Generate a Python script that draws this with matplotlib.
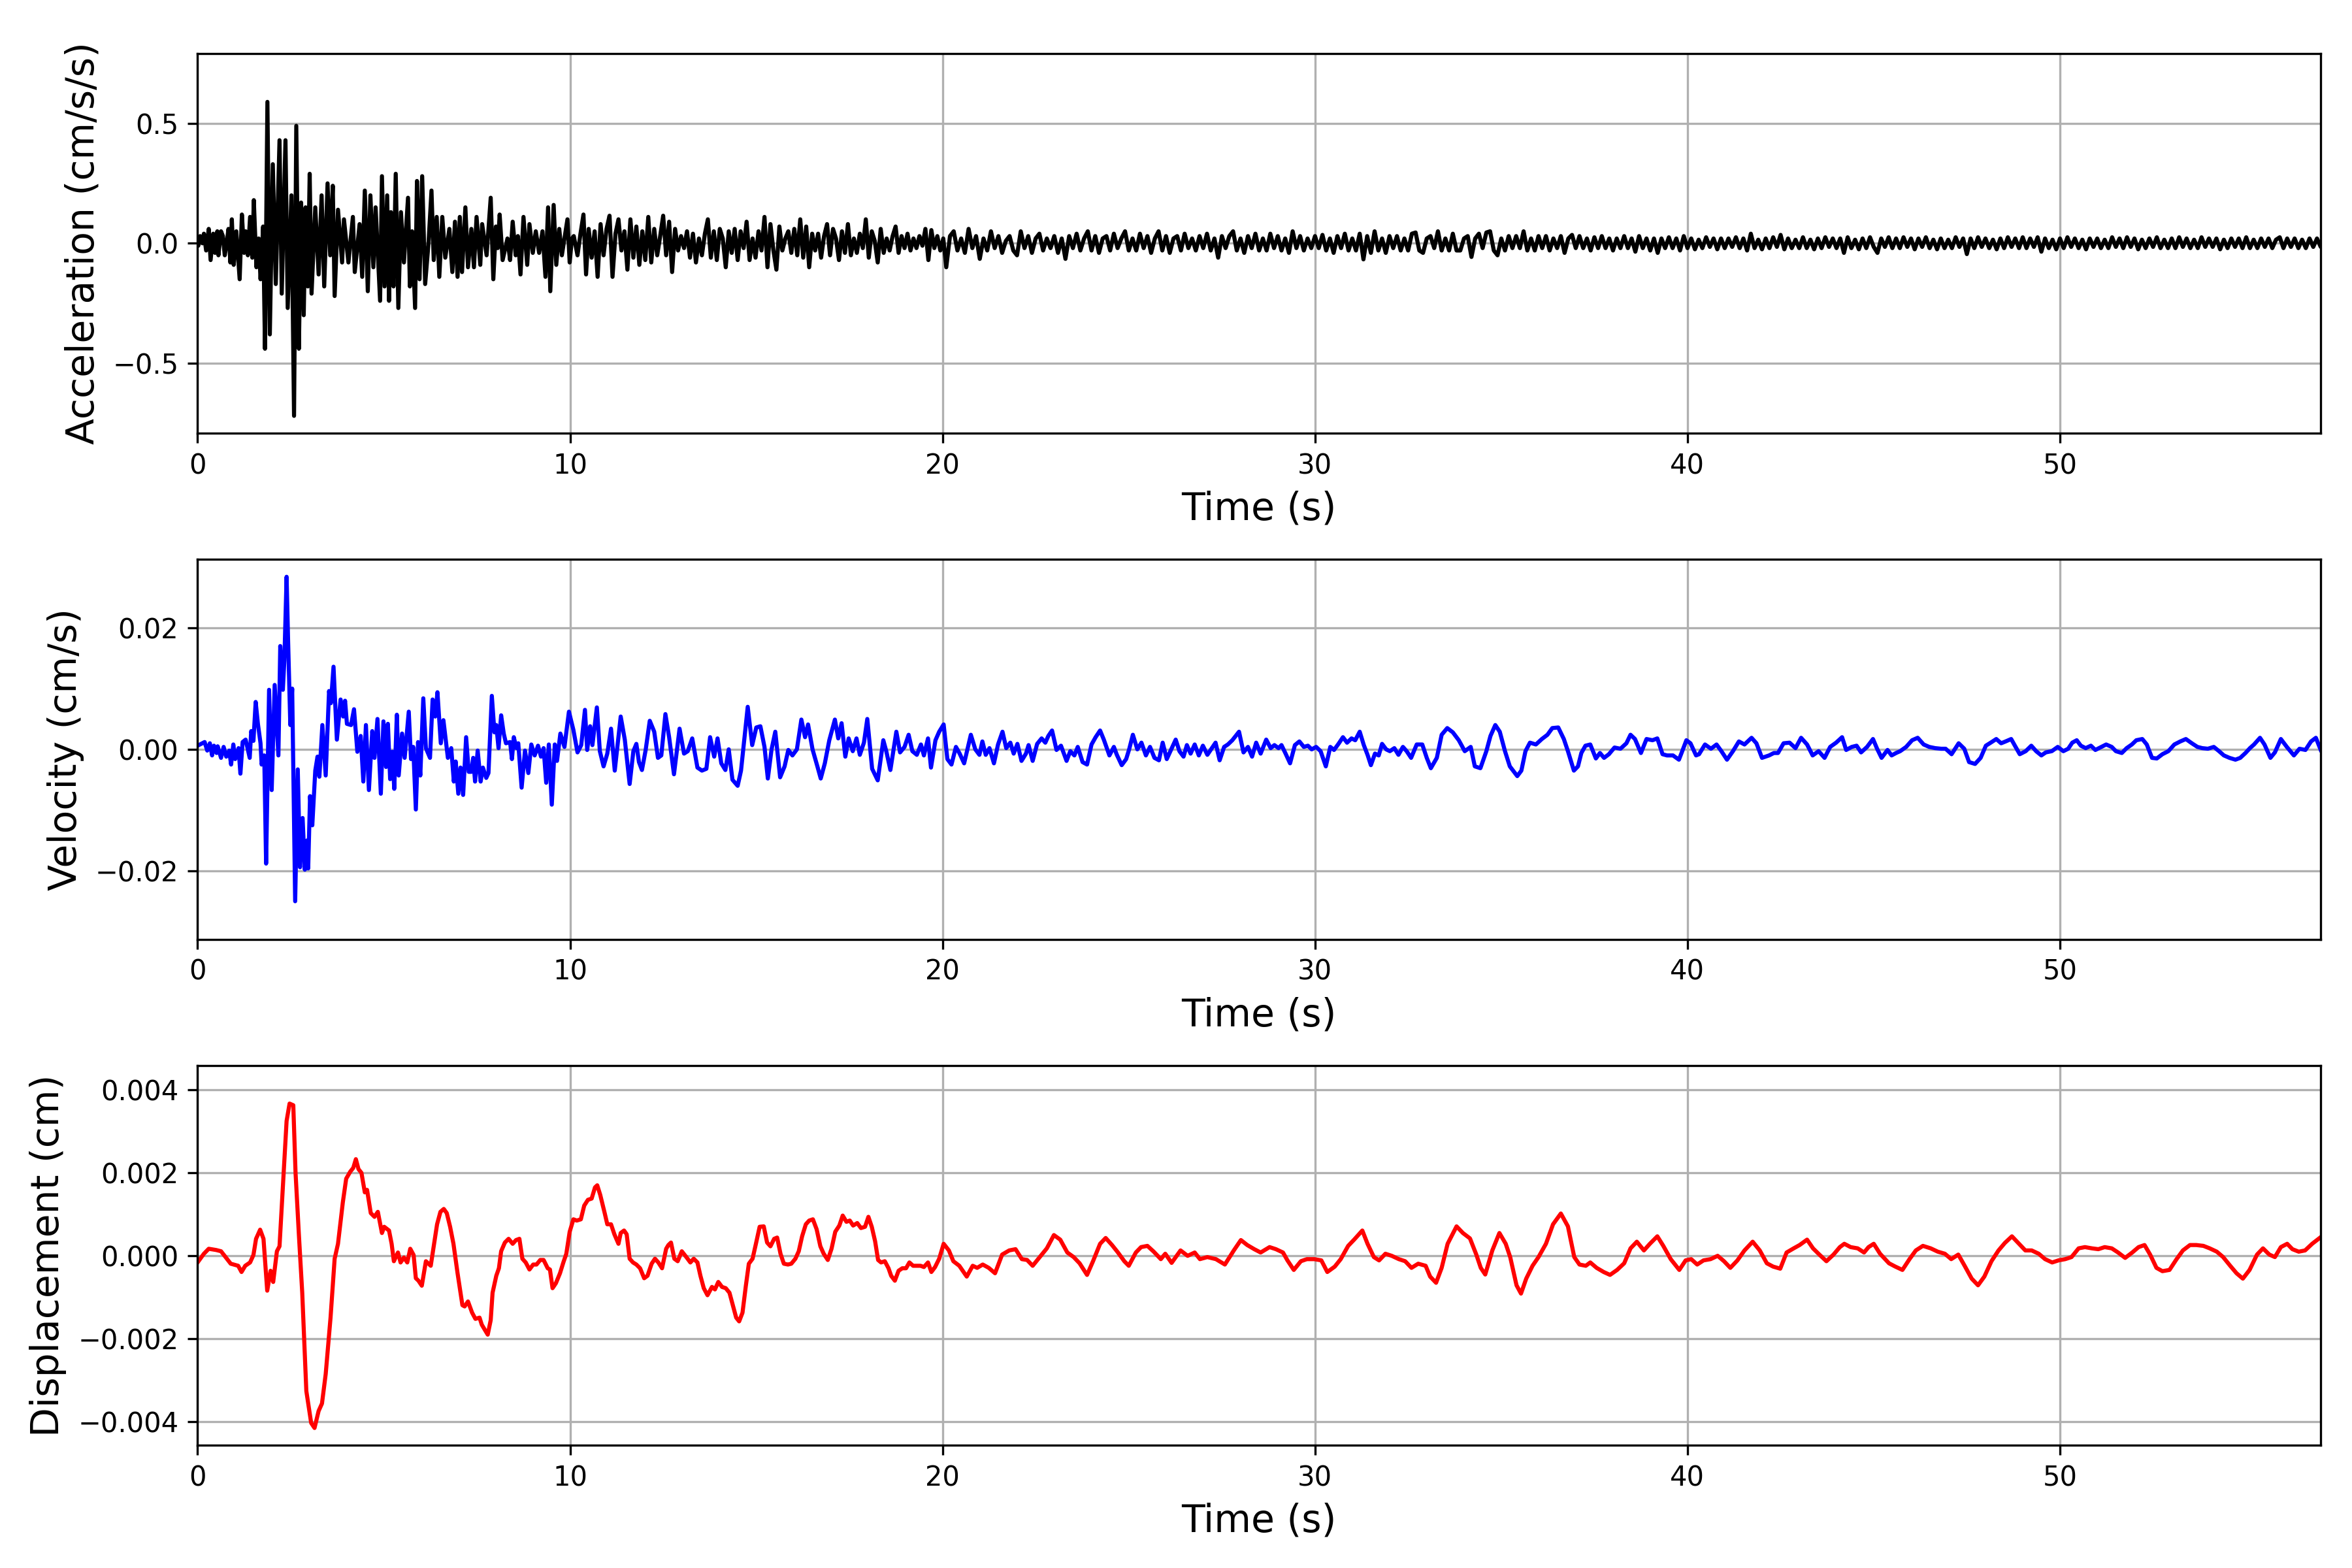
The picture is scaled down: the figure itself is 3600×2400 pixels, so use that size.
import numpy as np
import matplotlib
matplotlib.use("Agg")
import matplotlib.pyplot as plt

# ---------------- Acceleration (cm/s/s) ----------------
# early part: explicit sample times (s) and values
acc_t_early = [
    0.0, 0.02, 0.07, 0.13, 0.17, 0.23, 0.3, 0.35, 0.42, 0.47,
    0.53, 0.56, 0.63, 0.68, 0.73, 0.78, 0.83, 0.88, 0.92, 0.97,
    1.04, 1.13, 1.19, 1.25, 1.29, 1.35, 1.41, 1.47, 1.51, 1.58,
    1.64, 1.69, 1.76, 1.81, 1.875, 1.94, 2.02, 2.1, 2.2, 2.26,
    2.36, 2.42, 2.52, 2.59, 2.65, 2.72, 2.78, 2.85, 2.9, 2.96,
    3.01, 3.06, 3.16, 3.25, 3.33, 3.4, 3.49, 3.56, 3.63, 3.68,
    3.77, 3.88, 3.93, 4.05, 4.17, 4.22, 4.35, 4.42, 4.49, 4.57,
    4.64, 4.72, 4.78, 4.9, 4.95, 5.02, 5.09, 5.14, 5.19, 5.26,
    5.32, 5.39, 5.46, 5.54, 5.65, 5.7, 5.76, 5.84, 5.89, 5.96,
    6.03, 6.11, 6.2, 6.28, 6.34, 6.42, 6.49, 6.57, 6.65, 6.76,
    6.84, 6.91, 6.98, 7.04, 7.1, 7.19, 7.26, 7.35, 7.42, 7.49,
    7.59, 7.64, 7.76, 7.87, 7.94, 8.01, 8.06, 8.11, 8.19, 8.32,
    8.39, 8.46, 8.54, 8.6, 8.67, 8.75, 8.85, 8.91, 9.0, 9.08,
    9.17, 9.26, 9.34, 9.41, 9.47, 9.56, 9.63, 9.71, 9.78, 9.86,
    9.93, 9.99, 10.05, 10.1, 10.2, 10.28, 10.36, 10.43, 10.5]
acc_early = [
    0.0, -0.01, 0.03, 0.0, 0.04, -0.03, 0.06, -0.07, 0.04, -0.04,
    0.05, -0.05, 0.05, 0.03, -0.05, 0.0, 0.06, -0.08, 0.1, -0.09,
    0.05, -0.15, 0.12, -0.04, 0.05, -0.05, 0.11, -0.06, 0.18, -0.1,
    0.02, -0.15, 0.07, -0.44, 0.59, -0.38, 0.33, -0.17, 0.43, -0.21,
    0.43, -0.27, 0.2, -0.72, 0.49, -0.44, 0.17, -0.3, 0.15, -0.18,
    0.29, -0.21, 0.15, -0.13, 0.2, -0.18, 0.25, -0.05, 0.24, -0.22,
    0.14, -0.08, 0.1, -0.08, 0.11, -0.12, 0.08, -0.14, 0.22, -0.2,
    0.2, -0.1, 0.15, -0.24, 0.28, -0.18, 0.2, -0.24, 0.13, -0.18,
    0.29, -0.27, 0.13, -0.08, 0.19, -0.18, 0.05, -0.27, 0.26, -0.15,
    0.28, -0.17, 0.0, 0.22, -0.07, 0.11, -0.14, 0.11, -0.06, 0.06,
    -0.12, 0.09, -0.14, 0.11, -0.12, 0.15, -0.1, 0.06, -0.1, 0.11,
    -0.09, 0.08, -0.05, 0.19, -0.15, 0.07, -0.02, 0.12, -0.07, 0.02,
    -0.07, 0.09, -0.05, 0.03, -0.13, 0.11, -0.09, 0.08, -0.04, 0.05,
    -0.04, 0.05, -0.14, 0.15, -0.2, 0.16, -0.09, 0.06, -0.05, 0.03,
    0.1, -0.08, 0.02, 0.03, -0.05, 0.04, 0.12, -0.13, 0.06]

# middle part: sampled every 0.08 s from 10.58 s
acc_mid_start, acc_mid_step = 10.58, 0.08
acc_mid = [
    -0.06, 0.05, -0.14, 0.08, -0.05, 0.06, 0.115, -0.14, 0.04, 0.10,
    -0.03, 0.05, -0.11, 0.10, -0.06, 0.07, -0.09, 0.05, -0.07, 0.11,
    -0.08, 0.06, -0.05, 0.03, 0.115, -0.05, 0.09, -0.12, 0.06, -0.03,
    0.03, -0.02, 0.05, -0.06, 0.04, -0.08, 0.02, -0.05, 0.04, 0.10,
    -0.06, 0.05, -0.07, 0.06, 0.02, -0.10, 0.05, -0.04, 0.06, -0.07,
    0.05, -0.02, 0.09, -0.07, 0.02, -0.06, 0.05, -0.03, 0.11, -0.10,
    0.08, -0.03, -0.11, 0.07, -0.03, 0.02, 0.05, -0.04, 0.06, -0.05,
    0.10, -0.06, 0.07, -0.10, 0.04, -0.03, 0.04, -0.06, 0.03, 0.08,
    -0.05, 0.06, 0.02, -0.07, 0.05, -0.04, 0.08, -0.05, 0.02, -0.04,
    0.04, -0.02, 0.10, -0.06, 0.05, 0.01, -0.08, 0.06, -0.04, 0.02,
    -0.03, 0.03, 0.07, -0.04, 0.03, -0.02, 0.04, -0.03, 0.02, -0.02,
    0.03, -0.01, 0.06, -0.07, 0.055, -0.02, 0.03, -0.03, 0.02]

# late part: sampled every 0.1 s from 20.1 s
acc_late_start, acc_late_step = 20.1, 0.1
acc_late = [
    -0.10, 0.03, 0.05, -0.03, 0.02, -0.04, 0.06, -0.02, 0.03, -0.065,
    0.02, -0.03, 0.05, -0.02, 0.03, -0.04, 0.01, 0.03, -0.03, -0.05,
    0.05, -0.02, 0.03, -0.04, 0.02, 0.04, -0.03, 0.02, -0.02, 0.03,
    -0.04, 0.02, -0.065, 0.03, -0.02, 0.04, -0.03, 0.02, 0.05, -0.03,
    0.03, -0.04, 0.02, 0.03, -0.03, 0.04, -0.02, 0.02, 0.05, -0.03,
    0.02, -0.03, 0.04, -0.02, 0.03, -0.04, 0.02, 0.05, -0.03, 0.03,
    -0.04, 0.02, 0.03, -0.03, 0.04, -0.02, 0.02, -0.03, 0.03, -0.02,
    0.04, -0.03, 0.02, -0.06, 0.03, -0.02, 0.03, 0.05, -0.03, 0.02,
    -0.04, 0.03, -0.02, 0.04, -0.03, 0.02, -0.03, 0.04, -0.02, 0.03,
    -0.03, 0.02, -0.04, 0.05, -0.02, 0.03, -0.03, 0.02, -0.02, 0.03,
    -0.02, 0.035, -0.03, 0.02, -0.04, 0.03, -0.02, 0.04, -0.03, 0.02,
    -0.03, 0.04, -0.067, 0.03, -0.04, 0.05, -0.03, 0.02, -0.04, 0.03,
    -0.02, 0.03, -0.03, 0.02, -0.03, 0.04, 0.045, -0.03, -0.04, 0.02,
    0.03, -0.02, 0.05, -0.03, 0.02, -0.03, 0.04, -0.03, -0.03, 0.02,
    0.03, -0.057, 0.02, 0.04, -0.02, 0.045, 0.05, -0.03, -0.05, 0.02,
    -0.03, 0.03, -0.02, 0.03, -0.02, 0.05, -0.03, 0.02, -0.03, 0.03,
    -0.02, 0.03, -0.03, 0.02, -0.02, 0.03, -0.04, 0.02, 0.035, -0.02,
    0.03, -0.02, 0.02, -0.03, 0.025, -0.02, 0.03, -0.02, 0.02, -0.03,
    0.02, -0.02, 0.03, -0.02, 0.02, -0.035, 0.03, -0.02, 0.02, -0.03,
    0.02, -0.04, 0.02, -0.02, 0.025, -0.02, 0.02, -0.03, 0.03, -0.02,
    0.02, -0.025, 0.015, -0.02, 0.025, -0.015, 0.02, -0.025, 0.02, -0.02,
    0.02, -0.015, 0.025, -0.02, 0.02, -0.03, 0.04, -0.02, 0.015, -0.025,
    0.02, -0.02, 0.025, -0.015, 0.035, -0.025, 0.02, -0.02, 0.015, -0.02,
    0.025, -0.02, 0.015, -0.025, 0.02, -0.02, 0.025, -0.015, 0.02, -0.02,
    0.02, -0.04, 0.025, -0.02, 0.015, -0.025, 0.02, -0.02, 0.025, -0.015,
    -0.04, 0.02, -0.015, 0.025, -0.02, 0.02, -0.02, 0.025, -0.015, 0.02,
    -0.025, 0.02, -0.015, 0.025, -0.02, 0.015, -0.025, 0.02, -0.02, 0.015,
    -0.02, 0.025, -0.015, 0.02, -0.045, 0.02, -0.02, 0.025, -0.015, 0.02,
    -0.02, 0.015, -0.025, 0.02, -0.02, 0.025, -0.015, 0.02, -0.02, 0.025,
    -0.02, 0.02, -0.015, 0.025, -0.035, 0.02, -0.02, 0.015, -0.025, 0.02,
    -0.02, 0.025, -0.015, 0.02, -0.02, 0.015, -0.025, 0.02, -0.015, 0.02,
    -0.02, 0.015, -0.02, 0.025, -0.015, 0.02, -0.02, 0.025, -0.015, 0.02,
    -0.025, 0.015, -0.02, 0.02, -0.015, 0.025, -0.02, 0.015, -0.02, 0.02,
    -0.02, 0.025, -0.015, 0.02, -0.02, 0.015, -0.02, 0.025, -0.015, 0.02,
    -0.015, 0.02, -0.025, 0.015, -0.02, 0.02, -0.015, 0.02, -0.02, 0.025,
    -0.02, 0.015, -0.02, 0.02, -0.015, 0.02, -0.02, 0.015, 0.025, -0.02,
    0.02, -0.015, 0.02, -0.02, 0.015, -0.02, 0.02, -0.015, 0.02, -0.015,
    0.0]

# ---------------- Velocity (units of 0.001 cm/s) ----------------
vel_t = [
    0, 0.19, 0.26, 0.33, 0.39, 0.44, 0.51, 0.54, 0.63, 0.70,
    0.77, 0.85, 0.90, 0.96, 1.01, 1.10, 1.15, 1.21, 1.29, 1.40,
    1.44, 1.50, 1.56, 1.62, 1.69, 1.72, 1.79, 1.84, 1.92, 1.99,
    2.07, 2.17, 2.22, 2.29, 2.33, 2.39, 2.43, 2.49, 2.54, 2.62,
    2.69, 2.75, 2.82, 2.88, 2.94, 2.97, 3.02, 3.08, 3.16, 3.22,
    3.27, 3.35, 3.44, 3.53, 3.58, 3.65, 3.74, 3.84, 3.91, 3.96,
    4.01, 4.12, 4.20, 4.29, 4.38, 4.45, 4.52, 4.60, 4.69, 4.75,
    4.83, 4.92, 4.99, 5.06, 5.11, 5.17, 5.23, 5.28, 5.35, 5.40,
    5.49, 5.56, 5.67, 5.73, 5.79, 5.86, 5.92, 5.98, 6.06, 6.13,
    6.24, 6.31, 6.38, 6.44, 6.53, 6.60, 6.72, 6.81, 6.88, 6.93,
    7.00, 7.06, 7.13, 7.21, 7.28, 7.35, 7.40, 7.45, 7.52, 7.60,
    7.66, 7.75, 7.81, 7.90, 7.97, 8.02, 8.08, 8.15, 8.22, 8.28,
    8.39, 8.44, 8.49, 8.56, 8.61, 8.70, 8.79, 8.88, 8.96, 9.05,
    9.14, 9.22, 9.29, 9.36, 9.43, 9.51, 9.59, 9.65, 9.74, 9.85,
    9.97, 10.09, 10.2, 10.3, 10.4, 10.46, 10.54, 10.6, 10.72, 10.8,
    10.9, 11.0, 11.1, 11.2, 11.36, 11.47, 11.6, 11.7, 11.78, 11.85,
    11.93, 12.03, 12.14, 12.26, 12.36, 12.45, 12.56, 12.66, 12.79, 12.94,
    13.06, 13.16, 13.28, 13.42, 13.54, 13.66, 13.76, 13.87, 13.96, 14.06,
    14.17, 14.26, 14.36, 14.5, 14.59, 14.77, 14.89, 15.0, 15.11, 15.22,
    15.31, 15.41, 15.51, 15.64, 15.76, 15.86, 15.97, 16.09, 16.21, 16.31,
    16.39, 16.51, 16.64, 16.73, 16.84, 16.96, 17.11, 17.2, 17.29, 17.39,
    17.48, 17.59, 17.69, 17.78, 17.89, 17.98, 18.11, 18.26, 18.41, 18.49,
    18.6, 18.76, 18.86, 18.98, 19.09, 19.19, 19.31, 19.42, 19.5, 19.61,
    19.69, 19.81, 19.91, 20.03, 20.13, 20.24, 20.36, 20.46, 20.58, 20.76,
    20.88, 20.99, 21.07, 21.16, 21.26, 21.38, 21.49, 21.61, 21.71, 21.82,
    21.91, 22.01, 22.12, 22.24, 22.31, 22.42, 22.54, 22.66, 22.76, 22.84,
    22.94, 23.06, 23.18, 23.33, 23.43, 23.54, 23.63, 23.76, 23.88, 24.0,
    24.11, 24.23, 24.33, 24.48, 24.6, 24.68, 24.81, 24.93, 25.01, 25.11,
    25.23, 25.34, 25.46, 25.57, 25.69, 25.81, 25.91, 26.02, 26.14, 26.26,
    26.36, 26.47, 26.56, 26.66, 26.77, 26.88, 26.99, 27.11, 27.23, 27.33,
    27.44, 27.56, 27.66, 27.78, 27.96, 28.08, 28.2, 28.31, 28.42, 28.54,
    28.69, 28.81, 28.91, 29.02, 29.1, 29.21, 29.33, 29.46, 29.58, 29.7,
    29.81, 29.91, 30.03, 30.15, 30.29, 30.41, 30.51, 30.63, 30.75, 30.86,
    30.98, 31.08, 31.2, 31.31, 31.41, 31.5, 31.61, 31.71, 31.8, 31.91,
    32.01, 32.13, 32.24, 32.36, 32.46, 32.58, 32.73, 32.88, 33.0, 33.11,
    33.27, 33.4, 33.55, 33.7, 33.86, 34.02, 34.18, 34.29, 34.44, 34.6,
    34.71, 34.84, 34.96, 35.1, 35.23, 35.43, 35.54, 35.65, 35.77, 35.93,
    36.09, 36.24, 36.37, 36.53, 36.68, 36.79, 36.95, 37.06, 37.15, 37.26,
    37.39, 37.54, 37.65, 37.76, 37.89, 38.04, 38.2, 38.36, 38.47, 38.59,
    38.75, 38.9, 39.06, 39.19, 39.33, 39.45, 39.61, 39.77, 39.84, 39.97,
    40.08, 40.23, 40.31, 40.47, 40.63, 40.78, 40.91, 41.06, 41.22, 41.38,
    41.53, 41.72, 41.85, 42.0, 42.19, 42.32, 42.43, 42.58, 42.74, 42.9,
    43.05, 43.21, 43.36, 43.52, 43.68, 43.83, 43.99, 44.15, 44.26, 44.41,
    44.54, 44.66, 44.82, 44.98, 45.09, 45.21, 45.37, 45.48, 45.6, 45.71,
    45.87, 46.03, 46.18, 46.34, 46.49, 46.65, 46.81, 46.93, 47.09, 47.28,
    47.43, 47.56, 47.72, 47.87, 48.01, 48.14, 48.29, 48.42, 48.54, 48.69,
    48.79, 48.92, 49.08, 49.23, 49.36, 49.5, 49.62, 49.78, 49.94, 50.09,
    50.22, 50.33, 50.45, 50.56, 50.69, 50.83, 50.95, 51.11, 51.24, 51.39,
    51.5, 51.66, 51.79, 51.93, 52.05, 52.21, 52.33, 52.47, 52.6, 52.75,
    52.91, 53.07, 53.23, 53.38, 53.54, 53.69, 53.82, 53.97, 54.13, 54.27,
    54.4, 54.55, 54.71, 54.84, 54.98, 55.1, 55.21, 55.37, 55.49, 55.65,
    55.77, 55.93, 56.09, 56.28, 56.43, 56.59, 56.74, 56.87, 57.0]
vel_milli = [
    0.6, 1.2, -0.2, 1.0, -1.0, 0.6, -0.6, 0.5, -1.4, 0.4,
    -1.2, -0.2, -2.5, 0.8, -1.6, 0.2, -4.0, 1.2, 1.6, -1.4,
    3.0, 1.4, 7.8, 4.2, 1.0, -2.5, -1.0, -18.8, 9.8, -6.7,
    10.6, -1.0, 17.0, 9.8, 14.6, 28.4, 18.0, 4.0, 10.0, -25.0,
    -3.3, -19.4, -11.3, -19.8, -15.0, -19.6, -7.7, -12.5, -3.5, -1.2,
    -4.5, 4.0, -4.3, 9.6, 7.6, 13.6, 1.6, 8.2, 5.4, 8.0,
    4.2, 4.0, 6.6, -0.4, 2.2, -5.3, 4.0, -6.7, 3.0, -1.4,
    5.0, -7.3, 4.6, -2.9, 4.2, -4.9, -0.4, -6.5, 5.7, -4.3,
    2.6, -1.4, 6.2, -1.6, 0.4, -9.9, 1.2, -4.3, 8.4, 0.2,
    -1.4, 8.2, 5.4, 9.4, 1.0, 4.8, -1.4, 0.2, -5.3, -2.0,
    -7.3, -3.0, -7.5, 2.0, -3.7, -3.7, -1.4, -5.3, -0.2, -5.3,
    -3.0, -4.7, -3.9, 8.8, 2.8, 4.0, 0.2, 5.6, 2.6, 1.0,
    1.2, -1.6, 2.0, 0.2, 1.0, -6.3, -0.2, -3.9, 0.8, -1.0,
    0.6, -1.2, 0.2, -5.5, 0.8, -9.1, 0.8, -1.9, 2.6, 0.4,
    6.2, 3.2, -0.5, 0.7, 6.5, -0.1, 3.8, 0.7, 6.9, -0.3,
    -2.8, -0.7, 3.4, -3.5, 5.4, 1.6, -5.7, -0.3, 0.9, -2.1,
    -3.4, -0.1, 4.7, 2.9, -1.4, -1.0, 5.8, 2.0, -4.1, 3.4,
    -0.7, -0.3, 1.8, -3.0, -3.5, -3.2, 2.0, -1.2, 1.8, -2.3,
    -3.4, 0.0, -5.0, -6.0, -3.5, 7.0, 0.7, 3.6, 3.8, 0.4,
    -4.8, 0.0, 2.9, -4.6, -2.8, -0.1, -1.0, 0.0, 4.9, 2.0,
    4.1, 0.0, -2.8, -4.8, -2.3, 1.5, 4.9, 1.8, 4.3, -1.2,
    1.8, -0.3, 1.8, -0.9, 1.1, 5.0, -3.2, -5.1, 1.5, -0.3,
    -3.4, 2.9, -0.5, 0.4, 2.4, -0.3, -0.9, 0.8, -1.0, 1.8,
    -3.0, 1.5, 2.9, 4.1, -1.6, -2.5, 0.4, -0.7, -2.3, 2.4,
    0.0, -0.9, 1.3, -0.9, 0.2, -2.3, 0.8, 2.9, 0.2, 1.1,
    -0.7, 0.9, -1.9, -0.7, 0.7, -1.9, 0.9, 1.8, 1.1, 2.2,
    3.1, -0.1, 0.6, -1.9, -0.3, -1.0, 0.4, -2.1, -2.5, 0.8,
    2.0, 3.1, 1.6, -1.0, 0.4, -0.9, -2.6, -1.6, 0.0, 2.4,
    0.0, 1.1, -1.0, 0.4, -1.4, -1.8, 1.1, -1.6, 0.0, 1.6,
    -0.3, -1.2, 0.7, -0.7, 0.8, -1.0, 0.6, -0.9, 0.2, 1.1,
    -1.8, 0.4, 0.8, 1.5, 2.9, -0.5, 0.4, -1.2, 1.1, -0.7,
    1.6, 0.2, 0.7, 0.2, 0.7, -0.7, -2.3, 0.7, 1.3, 0.4,
    0.6, 0.0, 0.4, -0.3, -2.8, 0.4, -0.1, 0.9, 2.0, 1.1,
    1.8, 1.5, 2.9, 0.7, -0.9, -2.6, -0.7, -1.0, 0.9, 0.0,
    -0.3, 0.2, -0.9, 0.4, -0.3, -1.4, 0.8, 0.8, -1.4, -3.1,
    -1.4, 2.4, 3.5, 2.8, 1.5, -0.3, 0.4, -2.8, -3.1, -0.3,
    2.2, 4.0, 2.9, -0.3, -2.8, -4.4, -3.5, -0.3, 1.1, 0.8,
    1.7, 2.4, 3.5, 3.6, 1.7, -0.3, -3.5, -2.8, -0.6, 0.6,
    0.8, -1.5, -0.6, -1.4, -0.8, 0.3, 0.1, 1.0, 2.4, 1.7,
    -0.6, 1.7, 1.5, 1.8, -0.8, -1.0, -1.0, -1.7, -0.6, 1.5,
    1.0, -1.0, -0.8, 0.8, 0.1, 0.8, -0.3, -1.7, -0.3, 1.3,
    0.8, 1.9, 1.0, -1.4, -1.0, -0.6, -0.6, 1.0, 1.1, 0.2,
    1.9, 0.8, -1.0, -0.3, -1.4, 0.4, 1.1, 2.0, -0.1, 0.4,
    0.6, -0.5, 0.4, 1.7, 0.1, -1.4, -0.1, -1.0, -0.6, -0.3,
    0.4, 1.5, 1.9, 0.8, 0.4, 0.2, 0.1, 0.1, -0.8, 1.0,
    0.1, -2.1, -2.4, -1.4, 0.6, 1.1, 1.7, 1.0, 1.3, 1.7,
    0.6, -0.8, -0.3, 0.6, -0.3, -1.0, -0.5, -0.3, 0.4, -0.3,
    0.1, 1.1, 1.5, 0.6, 0.2, 0.6, -0.1, 0.4, 0.8, 0.4,
    -0.3, -0.6, 0.2, 0.8, 1.5, 1.7, 0.8, -1.4, -1.5, -0.8,
    -0.3, 0.8, 1.3, 1.7, 1.0, 0.4, 0.2, 0.1, 0.4, -0.3,
    -1.0, -1.4, -1.7, -1.4, -0.6, 0.2, 0.8, 1.9, 0.8, -1.4,
    -0.5, 1.7, 0.4, -1.0, 0.1, -0.1, 1.3, 1.9, -0.1]

# ---------------- Displacement (units of 0.0001 cm) ----------------
disp_t = [
    0, 0.17, 0.3, 0.5, 0.63, 0.76, 0.89, 1.09, 1.18, 1.28,
    1.41, 1.5, 1.57, 1.68, 1.77, 1.87, 1.96, 2.03, 2.13, 2.2,
    2.29, 2.39, 2.47, 2.57, 2.63, 2.72, 2.81, 2.92, 3.05, 3.14,
    3.25, 3.34, 3.44, 3.57, 3.68, 3.77, 3.9, 3.99, 4.1, 4.18,
    4.25, 4.32, 4.4, 4.49, 4.55, 4.65, 4.75, 4.84, 4.95, 5.01,
    5.14, 5.21, 5.27, 5.38, 5.45, 5.54, 5.63, 5.71, 5.8, 5.86,
    5.93, 6.02, 6.13, 6.26, 6.32, 6.43, 6.52, 6.61, 6.69, 6.78,
    6.87, 6.98, 7.11, 7.17, 7.26, 7.37, 7.46, 7.57, 7.63, 7.71,
    7.79, 7.87, 7.92, 8.02, 8.09, 8.15, 8.25, 8.35, 8.46, 8.55,
    8.64, 8.72, 8.81, 8.91, 9.01, 9.1, 9.2, 9.29, 9.4, 9.46,
    9.53, 9.62, 9.73, 9.82, 9.9, 9.99, 10.09, 10.18, 10.29, 10.38,
    10.48, 10.58, 10.67, 10.73, 10.81, 10.93, 11.0, 11.1, 11.19, 11.3,
    11.36, 11.45, 11.52, 11.6, 11.69, 11.78, 11.88, 11.99, 12.08, 12.19,
    12.28, 12.37, 12.47, 12.58, 12.64, 12.71, 12.8, 12.89, 13.0, 13.13,
    13.23, 13.32, 13.42, 13.5, 13.59, 13.69, 13.81, 13.89, 13.98, 14.08,
    14.18, 14.28, 14.37, 14.46, 14.54, 14.63, 14.72, 14.8, 14.9, 14.99,
    15.09, 15.2, 15.29, 15.38, 15.48, 15.56, 15.65, 15.74, 15.85, 15.94,
    16.05, 16.14, 16.23, 16.33, 16.42, 16.52, 16.62, 16.72, 16.81, 16.92,
    17.02, 17.12, 17.23, 17.32, 17.42, 17.51, 17.6, 17.71, 17.81, 17.92,
    18.01, 18.1, 18.19, 18.27, 18.35, 18.45, 18.55, 18.62, 18.72, 18.82,
    18.92, 19.02, 19.11, 19.21, 19.32, 19.41, 19.5, 19.61, 19.7, 19.8,
    19.91, 20.03, 20.17, 20.29, 20.45, 20.65, 20.81, 20.93, 21.08, 21.24,
    21.41, 21.6, 21.79, 21.96, 22.13, 22.27, 22.42, 22.61, 22.8, 22.99,
    23.16, 23.35, 23.52, 23.68, 23.88, 24.04, 24.23, 24.38, 24.55, 24.71,
    24.88, 25.0, 25.19, 25.33, 25.5, 25.67, 25.86, 25.98, 26.15, 26.39,
    26.58, 26.77, 26.91, 27.11, 27.34, 27.58, 27.82, 28.01, 28.18, 28.37,
    28.54, 28.78, 28.95, 29.14, 29.26, 29.43, 29.62, 29.78, 29.98, 30.17,
    30.33, 30.53, 30.69, 30.89, 31.05, 31.27, 31.41, 31.58, 31.72, 31.89,
    32.06, 32.25, 32.42, 32.59, 32.77, 32.97, 33.09, 33.25, 33.4, 33.56,
    33.8, 33.97, 34.16, 34.33, 34.45, 34.57, 34.76, 34.95, 35.12, 35.24,
    35.41, 35.53, 35.67, 35.84, 36.0, 36.2, 36.39, 36.6, 36.79, 36.96,
    37.1, 37.27, 37.39, 37.56, 37.75, 37.92, 38.11, 38.3, 38.47, 38.64,
    38.83, 38.99, 39.19, 39.35, 39.55, 39.78, 39.95, 40.1, 40.26, 40.43,
    40.62, 40.81, 40.98, 41.15, 41.34, 41.53, 41.75, 41.94, 42.13, 42.3,
    42.49, 42.66, 42.85, 43.01, 43.21, 43.37, 43.54, 43.73, 43.92, 44.09,
    44.21, 44.38, 44.57, 44.74, 44.86, 45.0, 45.17, 45.41, 45.58, 45.77,
    45.96, 46.13, 46.32, 46.53, 46.72, 46.91, 47.08, 47.27, 47.44, 47.63,
    47.8, 47.97, 48.16, 48.35, 48.52, 48.71, 48.88, 49.07, 49.24, 49.43,
    49.6, 49.79, 49.96, 50.14, 50.31, 50.5, 50.67, 50.86, 51.03, 51.2,
    51.39, 51.56, 51.75, 51.94, 52.11, 52.27, 52.42, 52.59, 52.75, 52.94,
    53.13, 53.3, 53.49, 53.66, 53.85, 54.02, 54.21, 54.38, 54.57, 54.74,
    54.91, 55.09, 55.29, 55.45, 55.62, 55.77, 55.93, 56.1, 56.24, 56.41,
    56.58, 56.77, 57.0]
disp_e4 = [
    -1.7, 0.4, 1.6, 1.3, 1.0, -0.5, -2.0, -2.5, -4.0, -2.5,
    -1.7, 0.1, 4.0, 6.2, 4.0, -8.5, -3.7, -6.4, 1.0, 2.2,
    16.4, 32.4, 36.6, 36.2, 20.0, 5.0, -9.0, -32.7, -40.4, -41.6,
    -37.5, -35.7, -28.6, -15.0, -0.8, 2.8, 12.8, 18.5, 20.2, 21.1,
    23.2, 20.8, 19.9, 15.2, 15.8, 10.2, 9.3, 10.5, 5.4, 6.9,
    6.0, 2.8, -1.4, 0.7, -1.7, -0.5, -1.7, 1.6, 0.1, -5.5,
    -6.1, -7.3, -1.4, -2.5, 1.0, 7.5, 10.5, 11.2, 10.2, 6.9,
    2.8, -4.3, -12.0, -12.3, -11.1, -13.8, -15.3, -15.0, -16.7, -17.9,
    -19.1, -15.6, -9.0, -4.9, -3.1, 1.0, 3.1, 4.0, 2.8, 3.7,
    4.0, -0.8, -1.7, -3.4, -2.2, -2.2, -1.1, -1.1, -3.1, -3.4,
    -7.9, -6.7, -4.3, -1.7, 0.4, 5.7, 8.7, 8.4, 8.7, 12.0,
    13.4, 13.7, 16.4, 16.9, 14.6, 10.2, 7.5, 7.5, 5.1, 2.8,
    5.4, 6.0, 5.1, -0.8, -1.7, -2.2, -3.1, -5.5, -4.9, -2.0,
    -0.8, -1.7, -3.1, 1.6, 2.5, 3.1, -0.8, -1.4, 1.0, -0.5,
    -1.7, -0.8, -1.7, -4.9, -7.9, -9.6, -7.6, -8.2, -6.4, -7.6,
    -7.9, -9.0, -12.0, -15.0, -15.9, -13.8, -7.3, -2.0, -0.8, 2.8,
    6.9, 7.0, 3.1, 2.2, 4.0, 4.3, 0.4, -2.0, -2.2, -2.0,
    -0.8, 1.0, 4.6, 7.5, 8.4, 8.7, 6.3, 2.2, 0.4, -1.1,
    1.6, 5.7, 7.2, 9.6, 8.1, 8.4, 7.2, 7.8, 6.6, 6.9,
    9.3, 6.9, 3.4, -1.1, -1.7, -1.4, -3.1, -4.9, -6.1, -3.7,
    -3.1, -3.1, -1.7, -2.5, -2.5, -2.5, -2.8, -1.7, -4.0, -2.8,
    -0.8, 2.8, 1.2, -1.4, -2.5, -5.1, -2.5, -3.0, -2.2, -3.0,
    -4.3, 0.2, 1.2, 1.5, -0.9, -1.1, -2.5, -0.4, 1.7, 4.9,
    3.8, 0.7, -0.4, -1.9, -4.7, -1.4, 2.8, 4.2, 2.5, 0.7,
    -1.4, -2.5, 0.7, 2.0, 2.3, 0.9, -0.9, 0.4, -1.8, 1.2,
    -0.1, 0.7, -0.9, -0.4, -0.9, -2.2, 1.2, 3.7, 2.5, 1.5,
    0.7, 2.0, 1.5, 0.7, -1.2, -3.5, -1.4, -0.9, -0.9, -1.2,
    -4.0, -2.7, -0.9, 2.3, 3.8, 6.0, 2.8, -0.4, -1.2, 0.4,
    -0.1, -0.9, -1.4, -3.0, -2.0, -2.5, -5.1, -6.6, -3.0, 2.8,
    7.0, 5.4, 4.1, 0.2, -3.0, -4.6, 1.2, 5.4, 2.8, -0.4,
    -7.2, -9.2, -5.6, -2.5, -0.4, 2.8, 7.5, 10.1, 7.0, -0.4,
    -2.2, -2.5, -1.7, -3.0, -4.0, -4.7, -3.5, -1.9, 1.7, 3.3,
    1.2, 2.8, 4.6, 2.3, -0.9, -3.5, -1.2, -0.9, -2.2, -1.2,
    -0.9, -0.1, -1.4, -3.0, -1.2, 1.2, 3.3, 1.2, -1.9, -2.7,
    -3.2, 0.7, 1.7, 2.5, 3.8, 1.7, 0.2, -1.4, 0.2, 2.0,
    2.8, 2.0, 1.7, 0.7, 2.0, 2.8, 0.4, -1.9, -2.7, -3.5,
    -0.9, 1.2, 2.3, 1.7, 0.9, 0.4, -0.9, 0.2, -2.5, -5.6,
    -7.2, -5.1, -1.4, 1.2, 3.0, 4.6, 3.0, 1.2, 1.2, 0.4,
    -0.9, -1.7, -1.2, -0.9, -0.4, 1.7, 2.0, 1.7, 1.5, 2.0,
    1.7, 0.7, -0.6, 0.7, 2.0, 2.5, 0.2, -3.0, -3.8, -3.5,
    -0.9, 1.2, 2.5, 2.5, 2.3, 1.7, 0.9, -0.4, -2.5, -4.3,
    -5.6, -3.5, 0.2, 1.7, 0.2, -0.4, 2.0, 2.8, 1.5, 0.9,
    1.2, 2.8, 4.4]

T_END = 57.0
x_ticks = [0, 10, 20, 30, 40, 50]

# ---------------- build series ----------------
acc_t = np.concatenate([
    np.array(acc_t_early),
    acc_mid_start + acc_mid_step * np.arange(len(acc_mid)),
    acc_late_start + acc_late_step * np.arange(len(acc_late)),
])
acc = np.concatenate([acc_early, acc_mid, acc_late])
vel = np.array(vel_milli) / 1000.0
disp = np.array(disp_e4) / 10000.0

series = [
    (acc_t, acc, "k", "Acceleration (cm/s/s)"),
    (np.array(vel_t), vel, "b", "Velocity (cm/s)"),
    (np.array(disp_t), disp, "r", "Displacement (cm)"),
]

fig, axes = plt.subplots(3, 1, figsize=(12, 8), dpi=300)
fig.subplots_adjust(left=0.084, right=0.9867, bottom=0.0783, top=0.9659, hspace=0.333)

for ax, (t, y, c, lab) in zip(axes, series):
    ax.plot(t, y, color=c, linewidth=1.5)
    lim = 1.1 * np.max(np.abs(y))
    ax.set_ylim(-lim, lim)
    ax.set_xlim(0, T_END)
    ax.set_xticks(x_ticks)
    ax.grid(True)
    ax.set_ylabel(lab, fontsize=14)
    ax.set_xlabel("Time (s)", fontsize=14)
    ax.tick_params(labelsize=10)

fig.savefig("out.png", dpi=300)
